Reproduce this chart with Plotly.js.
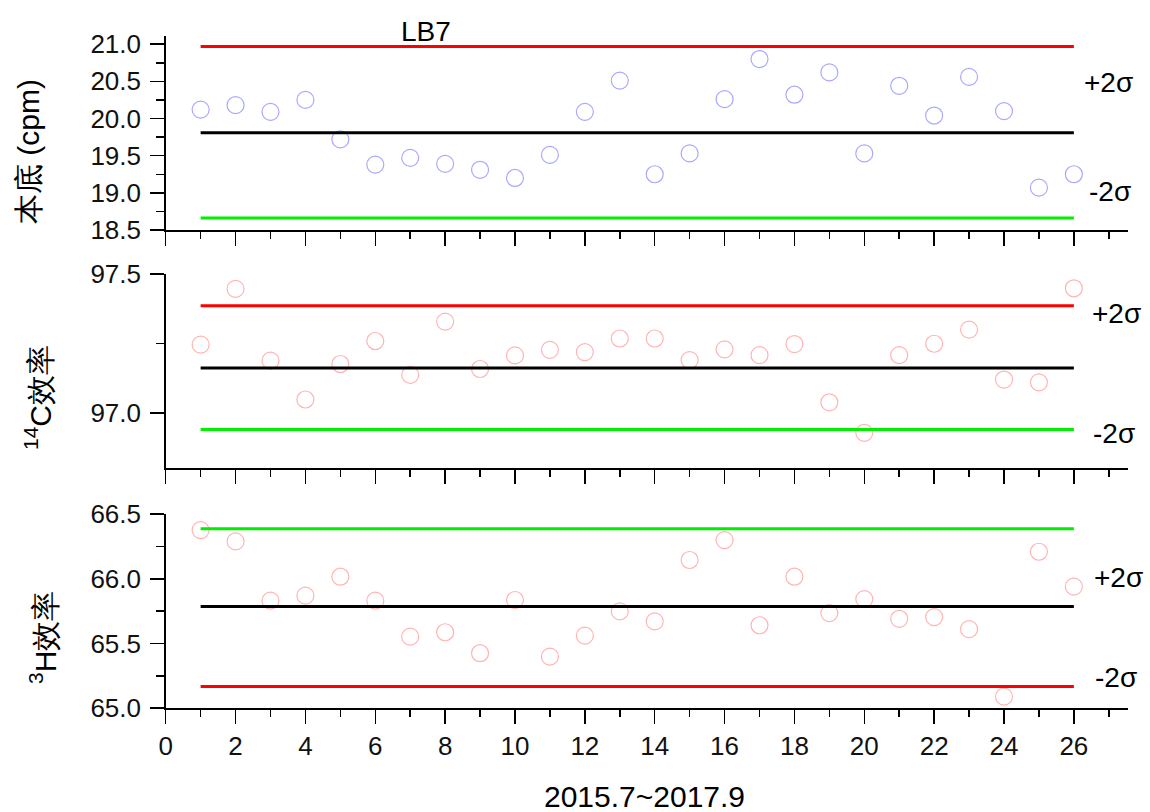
<!DOCTYPE html>
<html>
<head>
<meta charset="utf-8">
<script src="https://cdn.plot.ly/plotly-3.0.1.min.js"></script>
<style>html,body{margin:0;padding:0;background:#fff;}#chart{width:1150px;height:812px;}</style>
</head>
<body>
<div id="chart"></div>
<script>
// ---- data ----
const runs = [1,2,3,4,5,6,7,8,9,10,11,12,13,14,15,16,17,18,19,20,21,22,23,24,25,26];
const background = [20.12,20.18,20.09,20.25,19.72,19.38,19.47,19.39,19.31,19.20,19.51,20.09,20.51,19.25,19.53,20.26,20.80,20.32,20.62,19.53,20.44,20.04,20.56,20.10,19.07,19.25];
const c14Eff = [97.246,97.447,97.188,97.048,97.176,97.259,97.137,97.329,97.158,97.207,97.227,97.219,97.268,97.268,97.190,97.229,97.208,97.248,97.038,96.928,97.208,97.249,97.300,97.120,97.110,97.449];
const h3Eff = [66.376,66.289,65.831,65.870,66.016,65.831,65.553,65.587,65.425,65.836,65.399,65.561,65.748,65.671,66.145,66.299,65.641,66.016,65.735,65.843,65.691,65.704,65.611,65.090,66.209,65.939];
// control limits
const bgMean = 19.81, bgPlus = 20.97, bgMinus = 18.66;
const c14Mean = 97.162, c14Plus = 97.386, c14Minus = 96.940;
const h3Mean = 65.785, h3Top = 66.386, h3Bottom = 65.167;
const lineStart = 1, lineEnd = 26;
const chartTitle = "LB7";
const xTitle = "2015.7~2017.9";
const yTitles = ["本底 (cpm)", "<sup>14</sup>C效率", "<sup>3</sup>H效率"];
const sigmaLabels = ["+2σ", "-2σ"];

// ---- layout helpers ----
const W = 1150, H = 812;
const px = v => v / W;
const py = v => 1 - v / H;
const FONT = "Liberation Sans, Arial, sans-serif";

function hline(xa, ya, y, color) {
  return {x:[lineStart, lineEnd], y:[y, y], xaxis:xa, yaxis:ya, mode:'lines',
          line:{color:color, width:3}, hoverinfo:'skip', showlegend:false};
}
function pts(xa, ya, vals, color) {
  return {x:runs, y:vals, xaxis:xa, yaxis:ya, mode:'markers', showlegend:false,
          marker:{symbol:'circle-open', size:17, color:color, line:{color:color, width:1.2}}};
}
const blue = '#a8a8ff', pink = '#ffb4b4';
const data = [
  pts('x','y', background, blue),
  hline('x','y', bgPlus, '#ff0000'), hline('x','y', bgMean, '#000000'), hline('x','y', bgMinus, '#00ee00'),
  pts('x2','y2', c14Eff, pink),
  hline('x2','y2', c14Plus, '#ff0000'), hline('x2','y2', c14Mean, '#000000'), hline('x2','y2', c14Minus, '#00ee00'),
  pts('x3','y3', h3Eff, pink),
  hline('x3','y3', h3Top, '#00ee00'), hline('x3','y3', h3Mean, '#000000'), hline('x3','y3', h3Bottom, '#ff0000')
];

const xdom = [px(165.7), px(1128)];
function xax(anchor, labels) {
  return {domain:xdom, anchor:anchor, range:[0, 27.55], dtick:2, tick0:0,
    showline:true, linecolor:'#000', linewidth:1.5, ticks:'outside', ticklen:14, tickwidth:1.5, tickcolor:'#000',
    minor:{ticks:'outside', ticklen:7, tickwidth:1.5, tickcolor:'#000', dtick:1},
    showgrid:false, zeroline:false, showticklabels:labels,
    tickfont:{family:FONT, size:26, color:'#111'}};
}
function yax(anchor, dom, range, dtick, minorDtick) {
  return {domain:dom, anchor:anchor, range:range, dtick:dtick, tick0:0, tickformat:'.1f',
    showline:true, linecolor:'#000', linewidth:1.5, ticks:'outside', ticklen:14, tickwidth:1.5, tickcolor:'#000',
    minor:{ticks:'outside', ticklen:8, tickwidth:1.5, tickcolor:'#000', dtick:minorDtick},
    ticklabelstandoff:4,
    showgrid:false, zeroline:false, tickfont:{family:FONT, size:26, color:'#111'}};
}

function ann(text, x, y, size, extra) {
  return Object.assign({text:text, xref:'paper', yref:'paper', x:px(x), y:py(y), xanchor:'center', yanchor:'middle',
    showarrow:false, font:{family:FONT, size:size, color:'#000'}}, extra || {});
}

const layout = {
  width:W, height:H, margin:{l:0, r:0, t:0, b:0},
  paper_bgcolor:'#fff', plot_bgcolor:'#fff', showlegend:false,
  xaxis: xax('y', false),
  xaxis2: xax('y2', false),
  xaxis3: xax('y3', true),
  yaxis: yax('x', [py(230), py(36)], [18.5, 21.11], 0.5, 0.25),
  yaxis2: yax('x2', [py(468.3), py(274)], [96.8, 97.5005], 0.5, 0.25),
  yaxis3: yax('x3', [py(708.3), py(514)], [64.9995, 66.5005], 0.5, 0.25),
  annotations: [
    ann(chartTitle, 426, 32, 28),
    ann(yTitles[0], 28, 152, 30, {textangle:-90}),
    ann(yTitles[1], 38, 398, 30, {textangle:-90}),
    ann(yTitles[2], 43, 638, 30, {textangle:-90}),
    ann(xTitle, 644, 796, 30),
    ann(sigmaLabels[0], 1108, 82, 28), ann(sigmaLabels[1], 1110, 192, 28),
    ann(sigmaLabels[0], 1116, 313, 28), ann(sigmaLabels[1], 1114, 433, 28),
    ann(sigmaLabels[0], 1118, 577, 28), ann(sigmaLabels[1], 1116, 677, 28)
  ]
};
Plotly.newPlot('chart', data, layout, {displayModeBar:false, staticPlot:true});
</script>
</body>
</html>
